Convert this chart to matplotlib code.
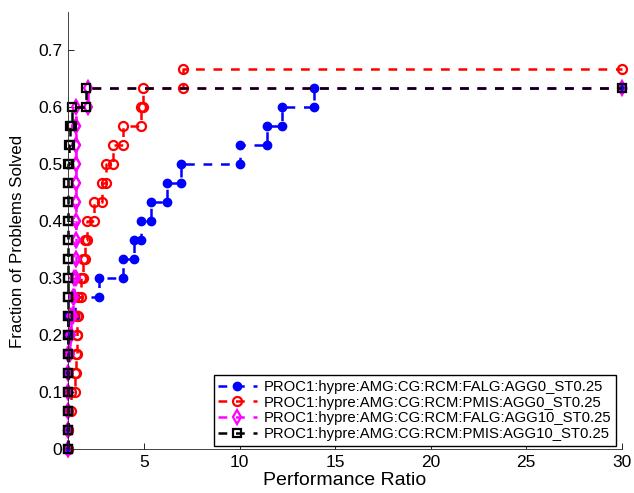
import matplotlib
matplotlib.use("Agg")
import matplotlib.pyplot as plt
import numpy as np

plt.rcParams['font.family'] = ['Liberation Sans', 'DejaVu Sans']

# performance ratios of the solved problems (30 problems in total)
n_problems = 30
x_max = 30

labels = [
    "PROC1:hypre:AMG:CG:RCM:FALG:AGG0_ST0.25",
    "PROC1:hypre:AMG:CG:RCM:PMIS:AGG0_ST0.25",
    "PROC1:hypre:AMG:CG:RCM:FALG:AGG10_ST0.25",
    "PROC1:hypre:AMG:CG:RCM:PMIS:AGG10_ST0.25",
]

ratios_falg_agg0 = [1.0, 1.0, 1.0, 1.0, 1.0, 1.0, 1.0, 1.4, 2.63, 3.9,
                    4.47, 4.85, 5.36, 6.21, 6.93, 10.03, 11.45, 12.2, 13.9]
ratios_pmis_agg0 = [1.0, 1.0, 1.15, 1.4, 1.45, 1.5, 1.5, 1.55, 1.7, 1.8,
                    1.9, 1.98, 2.39, 2.77, 2.98, 3.38, 3.9, 4.83, 4.95, 7.05]
ratios_falg_agg10 = [1.0, 1.0, 1.0, 1.0, 1.0, 1.1, 1.15, 1.25, 1.3, 1.42,
                     1.42, 1.42, 1.42, 1.42, 1.42, 1.42, 1.42, 1.45, 2.05]
ratios_pmis_agg10 = [1.0, 1.0, 1.0, 1.0, 1.0, 1.0, 1.0, 1.0, 1.0, 1.0,
                     1.0, 1.0, 1.0, 1.0, 1.0, 1.05, 1.12, 1.22, 1.95]

all_ratios = [ratios_falg_agg0, ratios_pmis_agg0, ratios_falg_agg10, ratios_pmis_agg10]


def stairs(ratios):
    # step curve with a point at both corners of every step
    xs = [1.0]
    ys = [0.0]
    for i, r in enumerate(ratios):
        xs += [r, r]
        ys += [i / n_problems, (i + 1) / n_problems]
    xs.append(x_max)
    ys.append(len(ratios) / n_problems)
    return np.array(xs), np.array(ys)


styles = [
    dict(color='#0000ff', marker='o', ms=6, mfc='#0000ff', mec='#0000ff', mew=1.0),
    dict(color='#ff0000', marker='o', ms=6.5, mfc='none', mec='#ff0000', mew=1.6),
    dict(color='#ff00ff', marker='d', ms=7, mfc='none', mec='#ff00ff', mew=1.6),
    dict(color='#000000', marker='s', ms=5.5, mfc='none', mec='#000000', mew=1.6),
]

fig = plt.figure(figsize=(6.34, 4.93), dpi=100)
ax = fig.add_axes([0.107, 0.089, 0.8736, 0.8865])

for ratios, style, label in zip(all_ratios, styles, labels):
    xs, ys = stairs(ratios)
    ax.plot(xs, ys, linestyle='--', linewidth=1.8, dashes=(3.5, 3.5), label=label,
            clip_on=False, **style)

ax.set_xlim(1, x_max)
ax.set_ylim(0, 23 / n_problems)
ax.set_xticks([5, 10, 15, 20, 25, 30])
ax.set_yticks([0, 0.1, 0.2, 0.3, 0.4, 0.5, 0.6, 0.7])
ax.set_yticklabels(["0", "0.1", "0.2", "0.3", "0.4", "0.5", "0.6", "0.7"])
ax.tick_params(direction='in', length=4, width=0.6, labelsize=12.5, pad=4)

ax.spines['top'].set_visible(False)
ax.spines['right'].set_visible(False)
for side in ['left', 'bottom']:
    ax.spines[side].set_linewidth(0.6)
    ax.spines[side].set_color('#222222')

ax.set_xlabel("Performance Ratio", fontsize=14, labelpad=2)
ax.set_ylabel("Fraction of Problems Solved", fontsize=12.2, labelpad=7)
ax.yaxis.set_label_coords(-0.078, 0.475)

leg = ax.legend(loc='lower right', bbox_to_anchor=(0.99, 0.008), fontsize=10.7,
                numpoints=1, handlelength=2.6, labelspacing=0.12, borderpad=0.3,
                handletextpad=0.5, fancybox=False, framealpha=1, borderaxespad=0)
leg.get_frame().set_edgecolor('black')
leg.get_frame().set_linewidth(1.0)
leg.set_zorder(5)

fig.savefig("out.png", dpi=100)
